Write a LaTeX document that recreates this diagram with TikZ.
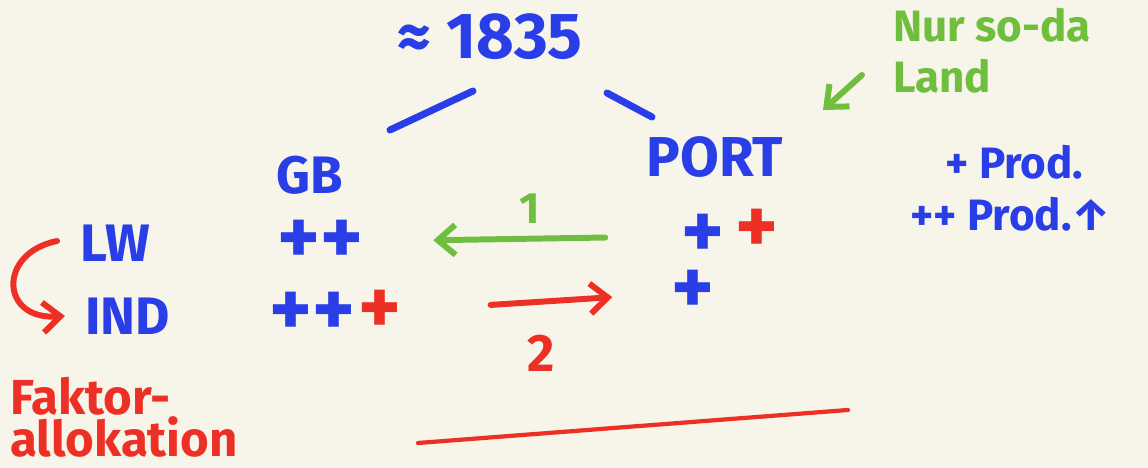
\documentclass[tikz,border=0pt]{standalone}
\usepackage{fontspec}
\setmainfont{Fira Sans}
\usepackage{xcolor}
\usetikzlibrary{calc,arrows.meta,positioning}
\definecolor{paper}{RGB}{247,245,234}
\definecolor{penblue}{RGB}{42,62,232}
\definecolor{pengreen}{RGB}{112,190,62}
\definecolor{penred}{RGB}{236,48,38}

\begin{document}
\begin{tikzpicture}[
  line cap=round,
  line join=round,
  >={Straight Barb[length=3.5mm,width=6mm]},
  pen/.style={inner sep=0pt,font=\bfseries\fontsize{30}{34}\selectfont},
  bigpen/.style={pen,font=\bfseries\fontsize{37}{40}\selectfont},
  smallpen/.style={pen,font=\bfseries\fontsize{25}{29}\selectfont},
  plusmark/.style={pen,font=\bfseries\fontsize{46}{50}\selectfont},
  bluestroke/.style={penblue,line width=4pt},
  greenstroke/.style={pengreen,line width=3.4pt},
  redstroke/.style={penred,line width=3.4pt}
]
\fill[paper,use as bounding box] (0,0) rectangle (22.96,9.36);

% time and countries
\node[bigpen,penblue] (year) at (9.80,8.62) {≈ 1835};
\node[pen,penblue] (gb) at (6.20,5.86) {GB};
\node[pen,penblue,font=\bfseries\fontsize{32}{34}\selectfont] (port) at (14.30,6.22) {PORT};
\coordinate (yl1) at (7.80,6.76);
\coordinate (yl2) at (9.46,7.54);
\coordinate (yr1) at (12.14,7.50);
\coordinate (yr2) at (13.04,7.02);
\draw[bluestroke] (yl1) -- (yl2);
\draw[bluestroke] (yr1) -- (yr2);

% sectors
\node[pen,penblue,anchor=west] (lw) at (1.60,4.50) {LW};
\node[pen,penblue,anchor=west] (ind) at (1.70,3.04) {IND};
\draw[redstroke,->] ($(lw.west)+(-0.46,0.04)$)
  .. controls (-0.05,4.30) and (0.00,2.95) .. ($(ind.west)+(-0.40,0)$);

% advantages
\node[plusmark,penblue] (gblw) at (6.40,4.52) {++};
\node[plusmark,penblue] (gbind) at (6.24,3.08) {++};
\node[plusmark,penred] (gbindx) at (7.60,3.12) {+};
\node[plusmark,penblue] (portlw) at (14.06,4.64) {+};
\node[plusmark,penred] (portlwx) at (15.14,4.74) {+};
\node[plusmark,penblue] (portind) at (13.86,3.52) {+};

\draw[greenstroke,->,shorten <=1.52cm,shorten >=1.4cm] (portlw) -- (gblw);
\node[smallpen,pengreen] (one) at (10.60,5.18) {1};
\draw[redstroke,->,shorten <=1.78cm,shorten >=1.18cm] (gbindx) -- (portind);
\node[pen,penred] (two) at (10.82,2.30) {2};

% note on Portugal
\node[smallpen,pengreen,anchor=west,align=left] (note) at (17.86,8.34)
  {Nur so-da\\Land};
\coordinate (nt) at (17.24,7.86);
\coordinate (nh) at (16.46,7.16);
\draw[greenstroke,->] (nt) -- (nh);

\node[smallpen,penblue,anchor=west] (prod1) at (18.90,6.12) {+ Prod.};
\node[smallpen,penblue,anchor=west] (prod2) at (18.20,5.08) {++ Prod.↑};

% bottom
\node[pen,penred,anchor=west,align=left,font=\bfseries\fontsize{28}{24}\selectfont]
  (fak) at (0.20,1.02) {Faktor-\\allokation};
\coordinate (ul1) at (8.36,0.50);
\coordinate (ul2) at (16.96,1.16);
\draw[penred,line width=2.4pt] (ul1) -- (ul2);
\end{tikzpicture}
\end{document}
